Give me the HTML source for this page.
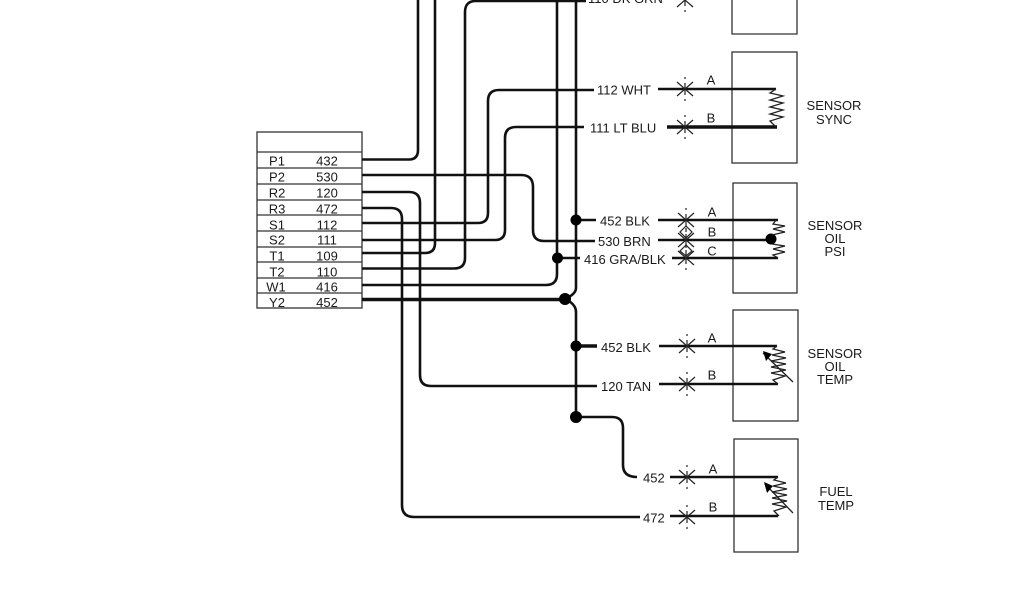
<!DOCTYPE html>
<html>
<head>
<meta charset="utf-8">
<style>
html,body{margin:0;padding:0;background:#fff;width:1024px;height:600px;overflow:hidden}
svg{display:block;filter:blur(.35px)}
text{font-family:"Liberation Sans",sans-serif;font-size:13px;fill:#1a1a1a}
.m{text-anchor:middle}
.w{fill:none;stroke:#111;stroke-width:2.6;stroke-linejoin:round}
.t{fill:none;stroke:#111;stroke-width:3.4}
.b{fill:none;stroke:#333;stroke-width:1.3}
.z{fill:none;stroke:#222;stroke-width:1.3}
.s{fill:none;stroke:#222;stroke-width:1.2}
</style>
</head>
<body>
<svg width="1024" height="600" viewBox="0 0 1024 600" xmlns="http://www.w3.org/2000/svg">
<defs>
<g id="x"><path class="s" d="M-8,-7 L8,7 M8,-7 L-8,7"/><path class="s" d="M0,-12 V-10 M0,-6 V6 M0,10 V12"/></g>
</defs>

<!-- connector table -->
<rect class="b" x="257" y="132" width="105" height="176"/>
<path class="b" d="M257,152 H362 M257,168 H362 M257,184 H362 M257,200 H362 M257,215 H362 M257,231 H362 M257,247 H362 M257,262 H362 M257,278 H362 M257,293 H362"/>
<g>
<text class="m" x="277" y="165.5">P1</text><text class="m" x="327" y="165.5">432</text>
<text class="m" x="277" y="181.5">P2</text><text class="m" x="327" y="181.5">530</text>
<text class="m" x="277" y="197.5">R2</text><text class="m" x="327" y="197.5">120</text>
<text class="m" x="277" y="213.5">R3</text><text class="m" x="327" y="213.5">472</text>
<text class="m" x="277" y="229.5">S1</text><text class="m" x="327" y="229.5">112</text>
<text class="m" x="277" y="244.5">S2</text><text class="m" x="327" y="244.5">111</text>
<text class="m" x="277" y="260.5">T1</text><text class="m" x="327" y="260.5">109</text>
<text class="m" x="277" y="276.5">T2</text><text class="m" x="327" y="276.5">110</text>
<text class="m" x="276" y="291.5">W1</text><text class="m" x="327" y="291.5">416</text>
<text class="m" x="277" y="307">Y2</text><text class="m" x="327" y="307">452</text>
</g>

<!-- wires -->
<path class="w" d="M362,159.5 H409 Q418,159.5 418,150 V0"/>
<path class="w" d="M362,175 H521 Q533,175 533,187 V230 Q533,241 544,241 H595"/>
<path class="w" d="M362,192 H409 Q420,192 420,203 V375 Q420,386 431,386 H597"/>
<path class="w" d="M362,208 H391 Q402,208 402,219 V505 Q402,517 414,517 H640"/>
<path class="w" d="M362,223 H478 Q488,223 488,213 V101 Q488,90 499,90 H594"/>
<path class="w" d="M362,240 H495 Q505,240 505,230 V138 Q505,127 516,127 H584"/>
<path class="w" d="M362,253 H425 Q435,253 435,243 V0"/>
<path class="w" d="M362,268.5 H454 Q465,268.5 465,258 V12 Q465,1 476,1 H586"/>
<path class="w" d="M362,285 H546 Q557,285 557,274 V0"/>
<path class="t" d="M362,299.5 H565"/>
<path class="w" d="M576,0 V288 Q576,294 565,299 Q576,304 576,312 V417"/>
<path class="w" d="M576,417 H612 Q623,417 623,428 V465 Q623,477 637,477"/>
<path class="w" d="M576,220 H596 M557,258 H580"/>
<path class="t" d="M576,346 H597"/>

<!-- junction dots -->
<circle cx="576" cy="220" r="5.5"/>
<circle cx="557.5" cy="258" r="5.5"/>
<circle cx="565" cy="299" r="6"/>
<circle cx="576" cy="346" r="5.5"/>
<circle cx="576" cy="417" r="6"/>

<!-- wire labels -->
<text x="588" y="3">110 DK GRN</text>
<text x="597" y="94.5">112 WHT</text>
<text x="590" y="132.5">111 LT BLU</text>
<text x="600" y="225.5">452 BLK</text>
<text x="598" y="246">530 BRN</text>
<text x="584" y="264">416 GRA/BLK</text>
<text x="601" y="352">452 BLK</text>
<text x="601" y="391">120 TAN</text>
<text x="643" y="482.5">452</text>
<text x="643" y="522.5">472</text>

<!-- component boxes -->
<path class="b" d="M732,-2 V34 H797 V-2"/>
<rect class="b" x="732" y="52" width="65" height="111"/>
<rect class="b" x="733" y="183" width="64" height="110"/>
<rect class="b" x="733" y="310" width="65" height="111"/>
<rect class="b" x="734" y="439" width="64" height="113"/>

<!-- branch wires to components -->
<path class="w" d="M658,89 H776"/>
<path class="t" d="M667,127 H777"/>
<path class="w" d="M658,220 H778"/>
<path class="w" d="M658,240 H771"/>
<path class="w" d="M672,258 H778"/>
<path class="w" d="M659,346 H777"/>
<path class="w" d="M659,384 H778"/>
<path class="w" d="M670,477 H778"/>
<path class="w" d="M670,516 H778"/>
<circle cx="771" cy="239" r="5.5"/>

<!-- splices -->
<use href="#x" x="685" y="0"/>
<use href="#x" x="685" y="89"/>
<use href="#x" x="685" y="127"/>
<use href="#x" x="686" y="220"/>
<use href="#x" x="686" y="240"/>
<use href="#x" x="686" y="258"/>
<use href="#x" x="687" y="346"/>
<use href="#x" x="687" y="384"/>
<use href="#x" x="687" y="477"/>
<use href="#x" x="687" y="517"/>
<path class="s" d="M686,226 L680,232 L686,238 L692,232 Z M686,245 L680,251 L686,256 L692,251 Z"/>

<!-- pin labels -->
<text class="m" x="711" y="84.5">A</text><text class="m" x="711" y="122.5">B</text>
<text class="m" x="712" y="216.5">A</text><text class="m" x="712" y="236.5">B</text><text class="m" x="712" y="255.5">C</text>
<text class="m" x="712" y="342.5">A</text><text class="m" x="712" y="379.5">B</text>
<text class="m" x="713" y="473.5">A</text><text class="m" x="713" y="511.5">B</text>

<!-- resistors -->
<path class="z" d="M776,89 L770,93 L783,96 L770,100 L783,103 L770,107 L783,110 L770,114 L783,117 L770,121 L776,127"/>
<path class="z" d="M776,220 L773,224 L785,226 L773,229 L785,232 L772,235"/>
<path class="z" d="M772,244 L785,246 L773,249 L785,252 L773,255 L778,258"/>
<path class="z" d="M777,346 L773,349 L785,352 L772,355 L786,358 L771,361 L786,364 L771,367 L786,370 L771,373 L785,376 L773,380 L778,384"/>
<path class="z" d="M763,353 L793,382"/>
<path d="M763,351 L772,354 L766,361 Z"/>
<path class="z" d="M778,477 L774,480 L786,483 L773,486 L787,489 L772,492 L787,495 L772,498 L787,501 L772,504 L786,507 L774,511 L779,516"/>
<path class="z" d="M765,484 L793,513"/>
<path d="M764,482 L773,486 L767,493 Z"/>

<!-- component names -->
<text class="m" x="834" y="110">SENSOR</text><text class="m" x="834" y="124">SYNC</text>
<text class="m" x="835" y="230">SENSOR</text><text class="m" x="835" y="243">OIL</text><text class="m" x="835" y="256">PSI</text>
<text class="m" x="835" y="358">SENSOR</text><text class="m" x="835" y="371">OIL</text><text class="m" x="835" y="384">TEMP</text>
<text class="m" x="836" y="496">FUEL</text><text class="m" x="836" y="510">TEMP</text>
</svg>
</body>
</html>
